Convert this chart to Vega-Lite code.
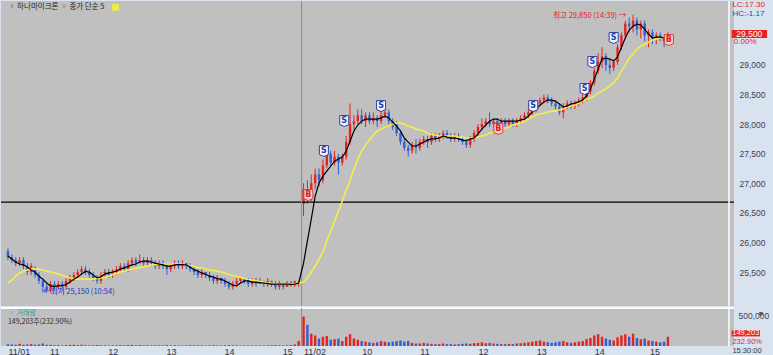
{
"$schema":"https://vega.github.io/schema/vega-lite/v6.json",
"padding":0,
"spacing":0,
"background":"#d8e3ef",
"config":{"view":{"fill":"#c0c0c0","stroke":null},"font":"Liberation Sans","axis":{"grid":false,"ticks":false,"domain":false,"labelFont":"Liberation Sans","labelColor":"#404050","labelFontSize":8.5}},
"datasets":{
"bars":[
{"t":2,"o":25850,"h":25900,"l":25700,"c":25750,"v":30000,"m5":25770,"m20":25315},
{"t":6,"o":25750,"h":25800,"l":25650,"c":25700,"v":25000,"m5":25720,"m20":25365},
{"t":10,"o":25700,"h":25750,"l":25600,"c":25650,"v":20000,"m5":25670,"m20":25430},
{"t":14,"o":25650,"h":25750,"l":25600,"c":25700,"v":35000,"m5":25635,"m20":25485},
{"t":18,"o":25700,"h":25750,"l":25550,"c":25600,"v":20000,"m5":25620,"m20":25510},
{"t":22,"o":25600,"h":25650,"l":25450,"c":25500,"v":25000,"m5":25585,"m20":25535},
{"t":26,"o":25500,"h":25650,"l":25450,"c":25600,"v":30000,"m5":25535,"m20":25550},
{"t":30,"o":25550,"h":25600,"l":25400,"c":25450,"v":20000,"m5":25500,"m20":25550},
{"t":34,"o":25450,"h":25500,"l":25300,"c":25350,"v":25000,"m5":25430,"m20":25550},
{"t":38,"o":25350,"h":25400,"l":25150,"c":25250,"v":40000,"m5":25380,"m20":25535},
{"t":42,"o":25250,"h":25300,"l":25150,"c":25200,"v":20000,"m5":25315,"m20":25515},
{"t":46,"o":25200,"h":25350,"l":25150,"c":25300,"v":18000,"m5":25265,"m20":25500},
{"t":50,"o":25300,"h":25350,"l":25200,"c":25250,"v":12000,"m5":25255,"m20":25485},
{"t":54,"o":25250,"h":25350,"l":25200,"c":25300,"v":15000,"m5":25265,"m20":25465},
{"t":58,"o":25300,"h":25350,"l":25200,"c":25250,"v":10000,"m5":25270,"m20":25440},
{"t":62,"o":25250,"h":25400,"l":25200,"c":25350,"v":15000,"m5":25290,"m20":25415},
{"t":66,"o":25350,"h":25450,"l":25300,"c":25400,"v":18000,"m5":25330,"m20":25400},
{"t":70,"o":25400,"h":25500,"l":25350,"c":25450,"v":20000,"m5":25380,"m20":25390},
{"t":74,"o":25450,"h":25550,"l":25400,"c":25500,"v":15000,"m5":25415,"m20":25380},
{"t":78,"o":25500,"h":25600,"l":25450,"c":25550,"v":20000,"m5":25465,"m20":25380},
{"t":82,"o":25550,"h":25600,"l":25450,"c":25500,"v":12000,"m5":25510,"m20":25380},
{"t":86,"o":25500,"h":25550,"l":25400,"c":25450,"v":10000,"m5":25500,"m20":25380},
{"t":90,"o":25450,"h":25500,"l":25350,"c":25400,"v":12000,"m5":25450,"m20":25380},
{"t":94,"o":25400,"h":25450,"l":25300,"c":25350,"v":15000,"m5":25400,"m20":25390},
{"t":98,"o":25350,"h":25500,"l":25300,"c":25450,"v":12000,"m5":25415,"m20":25400},
{"t":102,"o":25450,"h":25550,"l":25400,"c":25500,"v":10000,"m5":25465,"m20":25410},
{"t":106,"o":25500,"h":25550,"l":25400,"c":25450,"v":8000,"m5":25485,"m20":25430},
{"t":110,"o":25450,"h":25550,"l":25400,"c":25500,"v":10000,"m5":25500,"m20":25460},
{"t":114,"o":25500,"h":25600,"l":25450,"c":25550,"v":12000,"m5":25515,"m20":25475},
{"t":118,"o":25550,"h":25650,"l":25500,"c":25600,"v":15000,"m5":25550,"m20":25500},
{"t":122,"o":25600,"h":25650,"l":25500,"c":25550,"v":10000,"m5":25570,"m20":25515},
{"t":126,"o":25550,"h":25700,"l":25500,"c":25650,"v":15000,"m5":25595,"m20":25535},
{"t":130,"o":25650,"h":25750,"l":25600,"c":25700,"v":18000,"m5":25620,"m20":25550},
{"t":134,"o":25700,"h":25750,"l":25600,"c":25650,"v":12000,"m5":25635,"m20":25560},
{"t":138,"o":25650,"h":25800,"l":25650,"c":25700,"v":15000,"m5":25670,"m20":25575},
{"t":142,"o":25700,"h":25750,"l":25600,"c":25650,"v":10000,"m5":25685,"m20":25595},
{"t":146,"o":25650,"h":25750,"l":25600,"c":25700,"v":12000,"m5":25685,"m20":25600},
{"t":150,"o":25700,"h":25750,"l":25600,"c":25650,"v":10000,"m5":25670,"m20":25620},
{"t":154,"o":25650,"h":25700,"l":25550,"c":25600,"v":12000,"m5":25650,"m20":25625},
{"t":158,"o":25600,"h":25700,"l":25550,"c":25650,"v":10000,"m5":25635,"m20":25635},
{"t":162,"o":25650,"h":25700,"l":25550,"c":25600,"v":10000,"m5":25620,"m20":25635},
{"t":166,"o":25600,"h":25650,"l":25450,"c":25550,"v":15000,"m5":25600,"m20":25635},
{"t":170,"o":25550,"h":25650,"l":25500,"c":25600,"v":10000,"m5":25600,"m20":25635},
{"t":174,"o":25600,"h":25700,"l":25550,"c":25650,"v":12000,"m5":25620,"m20":25635},
{"t":178,"o":25650,"h":25700,"l":25550,"c":25600,"v":10000,"m5":25625,"m20":25635},
{"t":182,"o":25600,"h":25700,"l":25550,"c":25650,"v":8000,"m5":25625,"m20":25635},
{"t":186,"o":25650,"h":25650,"l":25550,"c":25600,"v":10000,"m5":25620,"m20":25620},
{"t":190,"o":25600,"h":25650,"l":25500,"c":25550,"v":12000,"m5":25585,"m20":25610},
{"t":194,"o":25550,"h":25600,"l":25450,"c":25500,"v":10000,"m5":25540,"m20":25595},
{"t":198,"o":25500,"h":25550,"l":25400,"c":25450,"v":12000,"m5":25515,"m20":25575},
{"t":202,"o":25450,"h":25550,"l":25400,"c":25500,"v":10000,"m5":25485,"m20":25570},
{"t":206,"o":25500,"h":25500,"l":25400,"c":25450,"v":8000,"m5":25460,"m20":25550},
{"t":210,"o":25450,"h":25500,"l":25350,"c":25400,"v":10000,"m5":25430,"m20":25535},
{"t":214,"o":25400,"h":25450,"l":25300,"c":25350,"v":12000,"m5":25415,"m20":25525},
{"t":218,"o":25350,"h":25450,"l":25300,"c":25400,"v":10000,"m5":25390,"m20":25515},
{"t":222,"o":25400,"h":25400,"l":25300,"c":25350,"v":8000,"m5":25380,"m20":25500},
{"t":226,"o":25350,"h":25400,"l":25250,"c":25300,"v":12000,"m5":25350,"m20":25485},
{"t":230,"o":25300,"h":25350,"l":25200,"c":25250,"v":15000,"m5":25315,"m20":25460},
{"t":234,"o":25250,"h":25350,"l":25200,"c":25300,"v":12000,"m5":25280,"m20":25440},
{"t":238,"o":25300,"h":25400,"l":25250,"c":25350,"v":10000,"m5":25265,"m20":25425},
{"t":242,"o":25350,"h":25400,"l":25300,"c":25400,"v":8000,"m5":25315,"m20":25410},
{"t":246,"o":25400,"h":25400,"l":25300,"c":25350,"v":10000,"m5":25350,"m20":25390},
{"t":250,"o":25350,"h":25400,"l":25250,"c":25300,"v":8000,"m5":25350,"m20":25375},
{"t":254,"o":25300,"h":25400,"l":25250,"c":25350,"v":10000,"m5":25330,"m20":25365},
{"t":258,"o":25350,"h":25400,"l":25250,"c":25300,"v":8000,"m5":25330,"m20":25350},
{"t":262,"o":25300,"h":25400,"l":25300,"c":25350,"v":10000,"m5":25320,"m20":25340},
{"t":266,"o":25350,"h":25350,"l":25250,"c":25300,"v":8000,"m5":25315,"m20":25330},
{"t":270,"o":25300,"h":25400,"l":25250,"c":25350,"v":10000,"m5":25305,"m20":25315},
{"t":274,"o":25350,"h":25350,"l":25250,"c":25300,"v":12000,"m5":25295,"m20":25315},
{"t":278,"o":25300,"h":25350,"l":25200,"c":25250,"v":15000,"m5":25295,"m20":25305},
{"t":282,"o":25250,"h":25350,"l":25200,"c":25300,"v":12000,"m5":25295,"m20":25295},
{"t":286,"o":25300,"h":25300,"l":25200,"c":25250,"v":10000,"m5":25295,"m20":25295},
{"t":290,"o":25250,"h":25350,"l":25250,"c":25300,"v":12000,"m5":25295,"m20":25295},
{"t":294,"o":25300,"h":25350,"l":25250,"c":25300,"v":15000,"m5":25290,"m20":25295},
{"t":298,"o":25300,"h":25350,"l":25250,"c":25350,"v":25000,"m5":25295,"m20":25305},
{"t":302,"o":25300,"h":25350,"l":25250,"c":25300,"v":80000,"m5":25315,"m20":25315},
{"t":307,"o":26650,"h":27000,"l":26450,"c":26900,"v":475000,"m5":25650,"m20":25330},
{"t":311,"o":26900,"h":27050,"l":26650,"c":26750,"v":340000,"m5":26025,"m20":25400},
{"t":315,"o":26750,"h":27150,"l":26700,"c":27000,"v":200000,"m5":26395,"m20":25500},
{"t":319,"o":27000,"h":27250,"l":26900,"c":27150,"v":170000,"m5":26785,"m20":25600},
{"t":323,"o":27150,"h":27250,"l":26950,"c":27050,"v":120000,"m5":27005,"m20":25720},
{"t":327,"o":27050,"h":27400,"l":27000,"c":27300,"v":150000,"m5":27120,"m20":25840},
{"t":331,"o":27300,"h":27600,"l":27250,"c":27500,"v":160000,"m5":27205,"m20":26025},
{"t":335,"o":27500,"h":27550,"l":27300,"c":27350,"v":100000,"m5":27290,"m20":26195},
{"t":339,"o":27350,"h":27550,"l":27300,"c":27450,"v":110000,"m5":27375,"m20":26360},
{"t":343,"o":27450,"h":27500,"l":27150,"c":27350,"v":120000,"m5":27410,"m20":26530},
{"t":347,"o":27350,"h":27500,"l":27300,"c":27450,"v":80000,"m5":27445,"m20":26700},
{"t":351,"o":27450,"h":27800,"l":27400,"c":27700,"v":150000,"m5":27545,"m20":26885},
{"t":355,"o":27700,"h":28350,"l":27650,"c":28000,"v":190000,"m5":27715,"m20":27040},
{"t":359,"o":28000,"h":28150,"l":27900,"c":28050,"v":120000,"m5":27885,"m20":27240},
{"t":363,"o":28050,"h":28250,"l":28000,"c":28150,"v":100000,"m5":27985,"m20":27410},
{"t":367,"o":28150,"h":28250,"l":28000,"c":28050,"v":80000,"m5":28050,"m20":27545},
{"t":371,"o":28050,"h":28200,"l":27950,"c":28150,"v":70000,"m5":28085,"m20":27645},
{"t":375,"o":28150,"h":28200,"l":28000,"c":28050,"v":60000,"m5":28085,"m20":27730},
{"t":379,"o":28050,"h":28200,"l":28000,"c":28100,"v":50000,"m5":28085,"m20":27815},
{"t":383,"o":28100,"h":28150,"l":27950,"c":28050,"v":60000,"m5":28085,"m20":27885},
{"t":387,"o":28050,"h":28250,"l":28000,"c":28150,"v":80000,"m5":28105,"m20":27915},
{"t":391,"o":28150,"h":28250,"l":28100,"c":28200,"v":70000,"m5":28135,"m20":27950},
{"t":395,"o":28200,"h":28250,"l":28000,"c":28050,"v":60000,"m5":28105,"m20":27965},
{"t":399,"o":28050,"h":28100,"l":27900,"c":27950,"v":70000,"m5":28035,"m20":28000},
{"t":403,"o":28000,"h":28050,"l":27800,"c":27850,"v":80000,"m5":27965,"m20":28020},
{"t":407,"o":27850,"h":27900,"l":27650,"c":27700,"v":90000,"m5":27885,"m20":28020},
{"t":411,"o":27700,"h":27750,"l":27550,"c":27600,"v":70000,"m5":27765,"m20":28000},
{"t":415,"o":27600,"h":27650,"l":27450,"c":27550,"v":80000,"m5":27695,"m20":27965},
{"t":419,"o":27550,"h":27700,"l":27500,"c":27650,"v":50000,"m5":27630,"m20":27950},
{"t":423,"o":27650,"h":27750,"l":27500,"c":27600,"v":40000,"m5":27630,"m20":27915},
{"t":427,"o":27600,"h":27750,"l":27550,"c":27700,"v":40000,"m5":27665,"m20":27900},
{"t":431,"o":27700,"h":27800,"l":27650,"c":27750,"v":50000,"m5":27695,"m20":27885},
{"t":435,"o":27750,"h":27800,"l":27600,"c":27700,"v":40000,"m5":27730,"m20":27850},
{"t":439,"o":27700,"h":27850,"l":27650,"c":27800,"v":35000,"m5":27750,"m20":27830},
{"t":443,"o":27800,"h":27850,"l":27700,"c":27750,"v":30000,"m5":27750,"m20":27815},
{"t":447,"o":27750,"h":27850,"l":27700,"c":27800,"v":30000,"m5":27765,"m20":27800},
{"t":451,"o":27800,"h":27900,"l":27750,"c":27850,"v":40000,"m5":27800,"m20":27800},
{"t":455,"o":27850,"h":27900,"l":27750,"c":27800,"v":30000,"m5":27780,"m20":27800},
{"t":459,"o":27800,"h":27850,"l":27700,"c":27750,"v":30000,"m5":27765,"m20":27800},
{"t":463,"o":27750,"h":27850,"l":27700,"c":27800,"v":25000,"m5":27765,"m20":27800},
{"t":467,"o":27800,"h":27850,"l":27700,"c":27750,"v":30000,"m5":27750,"m20":27780},
{"t":471,"o":27750,"h":27800,"l":27650,"c":27700,"v":35000,"m5":27730,"m20":27780},
{"t":475,"o":27700,"h":27750,"l":27600,"c":27650,"v":40000,"m5":27715,"m20":27765},
{"t":479,"o":27650,"h":27800,"l":27600,"c":27750,"v":35000,"m5":27750,"m20":27765},
{"t":483,"o":27750,"h":27900,"l":27700,"c":27850,"v":45000,"m5":27765,"m20":27765},
{"t":487,"o":27850,"h":28000,"l":27800,"c":27950,"v":50000,"m5":27830,"m20":27780},
{"t":491,"o":27950,"h":28100,"l":27900,"c":28000,"v":60000,"m5":27915,"m20":27800},
{"t":495,"o":28000,"h":28100,"l":27950,"c":28050,"v":45000,"m5":27985,"m20":27815},
{"t":499,"o":28050,"h":28200,"l":27950,"c":28000,"v":50000,"m5":28050,"m20":27850},
{"t":503,"o":28000,"h":28100,"l":27950,"c":28050,"v":40000,"m5":28085,"m20":27865},
{"t":507,"o":28050,"h":28100,"l":27950,"c":28000,"v":35000,"m5":28085,"m20":27885},
{"t":511,"o":28000,"h":28100,"l":27950,"c":28050,"v":30000,"m5":28050,"m20":27915},
{"t":515,"o":28050,"h":28100,"l":27950,"c":28000,"v":30000,"m5":28050,"m20":27935},
{"t":519,"o":28000,"h":28100,"l":27950,"c":28050,"v":35000,"m5":28050,"m20":27950},
{"t":523,"o":28050,"h":28100,"l":27950,"c":28000,"v":30000,"m5":28050,"m20":27985},
{"t":527,"o":28000,"h":28100,"l":27950,"c":28050,"v":40000,"m5":28050,"m20":28000},
{"t":531,"o":28050,"h":28150,"l":28000,"c":28100,"v":45000,"m5":28070,"m20":28020},
{"t":535,"o":28100,"h":28200,"l":28050,"c":28150,"v":50000,"m5":28085,"m20":28050},
{"t":539,"o":28150,"h":28250,"l":28100,"c":28200,"v":60000,"m5":28135,"m20":28085},
{"t":543,"o":28200,"h":28300,"l":28150,"c":28250,"v":70000,"m5":28205,"m20":28120},
{"t":547,"o":28250,"h":28400,"l":28200,"c":28350,"v":80000,"m5":28255,"m20":28155},
{"t":551,"o":28350,"h":28450,"l":28300,"c":28400,"v":90000,"m5":28320,"m20":28170},
{"t":555,"o":28400,"h":28500,"l":28350,"c":28450,"v":70000,"m5":28375,"m20":28185},
{"t":559,"o":28450,"h":28500,"l":28350,"c":28400,"v":60000,"m5":28405,"m20":28205},
{"t":563,"o":28400,"h":28450,"l":28300,"c":28350,"v":50000,"m5":28405,"m20":28220},
{"t":567,"o":28350,"h":28400,"l":28250,"c":28300,"v":60000,"m5":28390,"m20":28220},
{"t":571,"o":28300,"h":28350,"l":28150,"c":28200,"v":70000,"m5":28340,"m20":28240},
{"t":575,"o":28200,"h":28350,"l":28100,"c":28300,"v":80000,"m5":28290,"m20":28255},
{"t":579,"o":28300,"h":28400,"l":28250,"c":28350,"v":60000,"m5":28305,"m20":28290},
{"t":583,"o":28350,"h":28400,"l":28250,"c":28300,"v":50000,"m5":28340,"m20":28305},
{"t":587,"o":28300,"h":28400,"l":28250,"c":28350,"v":60000,"m5":28355,"m20":28320},
{"t":591,"o":28350,"h":28450,"l":28300,"c":28400,"v":70000,"m5":28375,"m20":28355},
{"t":595,"o":28400,"h":28500,"l":28350,"c":28450,"v":80000,"m5":28405,"m20":28390},
{"t":599,"o":28450,"h":28600,"l":28400,"c":28550,"v":110000,"m5":28475,"m20":28425},
{"t":603,"o":28550,"h":28750,"l":28500,"c":28700,"v":130000,"m5":28595,"m20":28440},
{"t":607,"o":28700,"h":28950,"l":28650,"c":28900,"v":170000,"m5":28760,"m20":28475},
{"t":611,"o":28900,"h":29200,"l":28850,"c":29050,"v":190000,"m5":28930,"m20":28525},
{"t":615,"o":29050,"h":29300,"l":28950,"c":29150,"v":150000,"m5":29100,"m20":28560},
{"t":619,"o":29150,"h":29200,"l":28900,"c":29000,"v":120000,"m5":29115,"m20":28595},
{"t":623,"o":29000,"h":29100,"l":28850,"c":28950,"v":100000,"m5":29100,"m20":28645},
{"t":627,"o":28950,"h":29100,"l":28900,"c":29050,"v":90000,"m5":29065,"m20":28695},
{"t":631,"o":29050,"h":29350,"l":29000,"c":29300,"v":140000,"m5":29135,"m20":28780},
{"t":635,"o":29300,"h":29550,"l":29250,"c":29500,"v":170000,"m5":29300,"m20":28895},
{"t":639,"o":29500,"h":29750,"l":29450,"c":29700,"v":190000,"m5":29455,"m20":29000},
{"t":643,"o":29700,"h":29800,"l":29550,"c":29650,"v":150000,"m5":29590,"m20":29115},
{"t":647,"o":29650,"h":29850,"l":29550,"c":29750,"v":200000,"m5":29655,"m20":29185},
{"t":651,"o":29750,"h":29800,"l":29500,"c":29600,"v":130000,"m5":29690,"m20":29270},
{"t":655,"o":29600,"h":29750,"l":29450,"c":29700,"v":110000,"m5":29675,"m20":29320},
{"t":659,"o":29700,"h":29750,"l":29400,"c":29500,"v":120000,"m5":29605,"m20":29355},
{"t":663,"o":29500,"h":29600,"l":29300,"c":29550,"v":90000,"m5":29520,"m20":29385},
{"t":667,"o":29550,"h":29600,"l":29350,"c":29450,"v":80000,"m5":29455,"m20":29420},
{"t":671,"o":29450,"h":29550,"l":29350,"c":29500,"v":70000,"m5":29470,"m20":29440},
{"t":675,"o":29500,"h":29550,"l":29400,"c":29450,"v":60000,"m5":29470,"m20":29455},
{"t":679,"o":29450,"h":29500,"l":29300,"c":29400,"v":70000,"m5":29455,"m20":29470},
{"t":683,"o":29400,"h":29550,"l":29350,"c":29500,"v":149203,"m5":29440,"m20":29500}
],
"sig":[
{"t":312,"p":26801,"k":"B"},{"t":328,"p":27545,"k":"S"},{"t":349,"p":28052,"k":"S"},{"t":387,"p":28305,"k":"S"},{"t":508,"p":27917,"k":"B"},{"t":544,"p":28305,"k":"S"},{"t":597,"p":28593,"k":"S"},{"t":605,"p":29049,"k":"S"},{"t":627,"p":29455,"k":"S"},{"t":684,"p":29421,"k":"B"}
]
},
"vconcat":[
{
"width":733,"height":305,
"layer":[
{"data":{"name":"bars"},"mark":{"type":"rule","strokeWidth":1},
 "encoding":{
  "x":{"field":"t","type":"quantitative","scale":{"domain":[0,746],"nice":false,"zero":false},"axis":null},
  "y":{"field":"l","type":"quantitative","scale":{"domain":[24926,30081],"nice":false,"zero":false},"title":null,
       "axis":{"orient":"right","values":[25500,26000,26500,27000,27500,28000,28500,29000],"labelExpr":"format(datum.value, ',')","labelAlign":"left","labelPadding":5,"labelBaseline":"middle","minExtent":40,"maxExtent":40,"title":null}},
  "y2":{"field":"h"},
  "color":{"condition":{"test":"datum.c >= datum.o","value":"#e6241e"},"value":"#2f5fd6"}}},
{"data":{"name":"bars"},"mark":{"type":"bar","size":2.4,"orient":"vertical"},
 "encoding":{
  "x":{"field":"t","type":"quantitative","axis":null},
  "y":{"field":"o","type":"quantitative","title":null},
  "y2":{"field":"c"},
  "color":{"condition":{"test":"datum.c >= datum.o","value":"#e6241e"},"value":"#2f5fd6"}}},
{"data":{"values":[{"p":26683}]},"mark":{"type":"rule","color":"#000000","strokeWidth":1.3},
 "encoding":{"y":{"field":"p","type":"quantitative","title":null}}},
{"data":{"values":[{"t":305}]},"mark":{"type":"rule","color":"#8c8c8c","strokeWidth":1},
 "encoding":{"x":{"field":"t","type":"quantitative","axis":null}}},
{"data":{"values":[{"t":746}]},"mark":{"type":"rule","color":"#ffffff","strokeWidth":1.5},
 "encoding":{"x":{"field":"t","type":"quantitative","axis":null}}},
{"data":{"name":"bars"},"mark":{"type":"line","color":"#f2ef48","strokeWidth":1.6},
 "encoding":{"x":{"field":"t","type":"quantitative","axis":null},"y":{"field":"m20","type":"quantitative","title":null}}},
{"data":{"name":"bars"},"mark":{"type":"line","color":"#000000","strokeWidth":1.2},
 "encoding":{"x":{"field":"t","type":"quantitative","axis":null},"y":{"field":"m5","type":"quantitative","title":null}}},
{"data":{"name":"sig"},"mark":{"type":"point","shape":"M-0.9,-1.1L0.9,-1.1L0.9,0.7L0,1.1L-0.9,0.7Z","size":100,"filled":true,"strokeWidth":1,"opacity":1},
 "encoding":{"x":{"field":"t","type":"quantitative","axis":null},"y":{"field":"p","type":"quantitative","title":null},
  "fill":{"condition":{"test":"datum.k == 'B'","value":"#f7cfcf"},"value":"#f4f4ff"},
  "stroke":{"condition":{"test":"datum.k == 'B'","value":"#e03a3a"},"value":"#2a3fa8"}}},
{"data":{"name":"sig"},"mark":{"type":"text","fontSize":8,"fontWeight":"bold","baseline":"middle","align":"center","dy":-0.5,"font":"DejaVu Sans"},
 "encoding":{"x":{"field":"t","type":"quantitative","axis":null},"y":{"field":"p","type":"quantitative","title":null},"text":{"field":"k"},
  "color":{"condition":{"test":"datum.k == 'B'","value":"#d82020"},"value":"#2a3fa8"}}},
{"data":{"values":[{"t":640,"p":29827,"s":"최고 29,850 (14:39) →"}]},"mark":{"type":"text","align":"right","baseline":"middle","fontSize":7.5,"font":"Noto Sans CJK KR","color":"#e02020"},
 "encoding":{"x":{"field":"t","type":"quantitative","axis":null},"y":{"field":"p","type":"quantitative","title":null},"text":{"field":"s"}}},
{"data":{"values":[{"t":38.5,"p":25162,"s":"←최저 25,150 (10:54)"}]},"mark":{"type":"text","align":"left","baseline":"middle","fontSize":7.5,"font":"Noto Sans CJK KR","color":"#2535c8"},
 "encoding":{"x":{"field":"t","type":"quantitative","axis":null},"y":{"field":"p","type":"quantitative","title":null},"text":{"field":"s"}}},
{"data":{"values":[{"t":2,"p":29975,"s":"▫ 하나마이크론 ▫ 종가 단순 5"}]},"mark":{"type":"text","align":"left","baseline":"middle","fontSize":7.5,"font":"Noto Sans CJK KR","color":"#262626"},
 "encoding":{"x":{"field":"t","type":"quantitative","axis":null},"y":{"field":"p","type":"quantitative","title":null},"text":{"field":"s"}}},
{"data":{"values":[{"t":113,"p":29975}]},"mark":{"type":"point","shape":"square","filled":true,"size":45,"color":"#eeee44","opacity":1},
 "encoding":{"x":{"field":"t","type":"quantitative","axis":null},"y":{"field":"p","type":"quantitative","title":null}}},
{"data":{"values":[{"t1":748.7,"t2":785.3,"p1":29456,"p2":29591}]},"mark":{"type":"rect","color":"#e8221c"},
 "encoding":{"x":{"field":"t1","type":"quantitative","axis":null},"x2":{"field":"t2"},"y":{"field":"p1","type":"quantitative","title":null},"y2":{"field":"p2"}}},
{"data":{"values":[{"t":767,"p":29523,"s":"29,500"}]},"mark":{"type":"text","align":"center","baseline":"middle","fontSize":8.5,"color":"#ffffff"},
 "encoding":{"x":{"field":"t","type":"quantitative","axis":null},"y":{"field":"p","type":"quantitative","title":null},"text":{"field":"s"}}},
{"data":{"values":[{"t":749.5,"p":30005,"s":"LC:17.30","col":"r"},{"t":749.5,"p":29855,"s":"HC:-1.17","col":"b"},{"t":751,"p":29380,"s":"0.00%","col":"r"}]},
 "mark":{"type":"text","align":"left","baseline":"middle","fontSize":8},
 "encoding":{"x":{"field":"t","type":"quantitative","axis":null},"y":{"field":"p","type":"quantitative","title":null},"text":{"field":"s"},
  "color":{"condition":{"test":"datum.col == 'r'","value":"#e02828"},"value":"#2848c0"}}}
]
},
{
"width":733,"height":38,
"layer":[
{"data":{"name":"bars"},"mark":{"type":"bar","size":2.4,"orient":"vertical"},
 "encoding":{
  "x":{"field":"t","type":"quantitative","scale":{"domain":[0,746],"nice":false,"zero":false},"title":null,
       "axis":{"orient":"bottom","values":[2,45,105,165,225,285,307,367,427,487,547,607,664],
        "labelExpr":"datum.value == 2 ? '11/01' : datum.value == 45 ? '11' : datum.value == 105 ? '12' : datum.value == 165 ? '13' : datum.value == 225 ? '14' : datum.value == 285 ? '15' : datum.value == 307 ? '11/02' : datum.value == 367 ? '10' : datum.value == 427 ? '11' : datum.value == 487 ? '12' : datum.value == 547 ? '13' : datum.value == 607 ? '14' : '15'",
        "labelAlign":"left","labelBaseline":"top","labelPadding":1,"labelFontSize":9,"labelColor":"#333340","minExtent":12,"maxExtent":12,"labelOverlap":false,"labelBound":false,"title":null}},
  "y":{"field":"v","type":"quantitative","scale":{"domain":[0,613000],"nice":false,"zero":true},"title":null,
       "axis":{"orient":"right","values":[500000],"labelExpr":"format(datum.value, ',')","labelAlign":"left","labelPadding":4,"labelBaseline":"middle","minExtent":40,"maxExtent":40,"title":null}},
  "color":{"condition":{"test":"datum.c >= datum.o","value":"#e6241e"},"value":"#2f5fd6"}}},
{"data":{"values":[{"v":613000}]},"mark":{"type":"rule","color":"#ffffff","strokeWidth":2},
 "encoding":{"y":{"field":"v","type":"quantitative","title":null}}},
{"data":{"values":[{"t":305}]},"mark":{"type":"rule","color":"#8c8c8c","strokeWidth":1},
 "encoding":{"x":{"field":"t","type":"quantitative","title":null}}},
{"data":{"values":[{"t":746}]},"mark":{"type":"rule","color":"#ffffff","strokeWidth":1.5},
 "encoding":{"x":{"field":"t","type":"quantitative","title":null}}},
{"data":{"values":[{"t":2,"v":528000,"s":"▫ 거래량","col":"g"},{"t":2,"v":380000,"s":"149,203주(232.90%)","col":"k"}]},
 "mark":{"type":"text","align":"left","baseline":"middle","fontSize":7,"font":"Noto Sans CJK KR"},
 "encoding":{"x":{"field":"t","type":"quantitative","title":null},"y":{"field":"v","type":"quantitative","title":null},"text":{"field":"s"},
  "color":{"condition":{"test":"datum.col == 'g'","value":"#2a9c9c"},"value":"#2a2a2a"}}},
{"data":{"values":[{"t1":748.7,"t2":778,"v1":155000,"v2":255000}]},"mark":{"type":"rect","color":"#e8221c"},
 "encoding":{"x":{"field":"t1","type":"quantitative","title":null},"x2":{"field":"t2"},"y":{"field":"v1","type":"quantitative","title":null},"y2":{"field":"v2"}}},
{"data":{"values":[{"t":763.3,"v":205000,"s":"149,203"}]},"mark":{"type":"text","align":"center","baseline":"middle","fontSize":7.5,"color":"#ffffff"},
 "encoding":{"x":{"field":"t","type":"quantitative","title":null},"y":{"field":"v","type":"quantitative","title":null},"text":{"field":"s"}}},
{"data":{"values":[{"t":749.5,"v":68000,"s":"232.90%","col":"r"},{"t":749.5,"v":-81000,"s":"15:30:00","col":"k"}]},
 "mark":{"type":"text","align":"left","baseline":"middle","fontSize":7.5},
 "encoding":{"x":{"field":"t","type":"quantitative","title":null},"y":{"field":"v","type":"quantitative","title":null},"text":{"field":"s"},
  "color":{"condition":{"test":"datum.col == 'r'","value":"#e02828"},"value":"#333340"}}},
{"data":{"values":[{"t":779,"v":520000}]},"mark":{"type":"point","shape":"square","filled":true,"size":12,"color":"#555560","opacity":1},
 "encoding":{"x":{"field":"t","type":"quantitative","title":null},"y":{"field":"v","type":"quantitative","title":null}}}
]
}
]
}
